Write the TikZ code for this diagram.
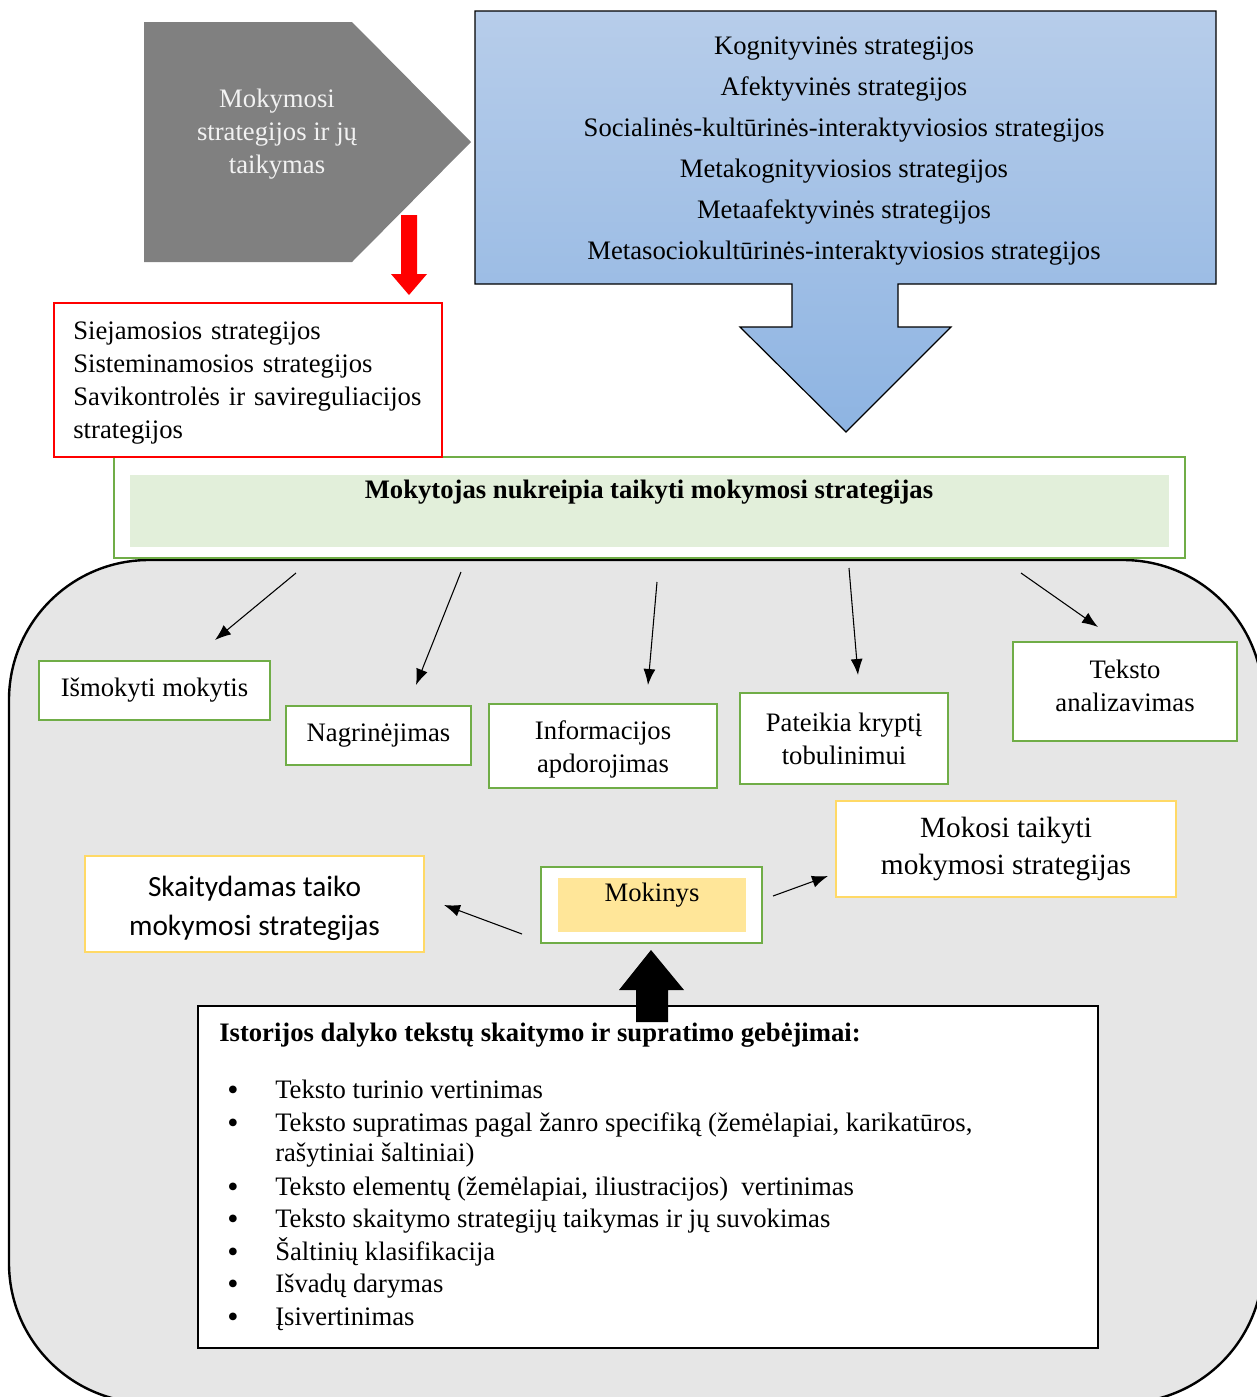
\documentclass[tikz,border=0pt]{standalone}
\usepackage{fontspec}
\setmainfont{Liberation Serif}
\newfontfamily\calibrifont{Carlito}
\usetikzlibrary{arrows.meta}

\definecolor{grayshape}{RGB}{128,128,128}
\definecolor{graytext}{RGB}{242,242,242}
\definecolor{bluetop}{RGB}{183,205,234}
\definecolor{bluebot}{RGB}{142,180,226}
\definecolor{grn}{RGB}{112,173,71}
\definecolor{grnfill}{RGB}{226,239,218}
\definecolor{ylw}{RGB}{255,217,102}
\definecolor{ylwfill}{RGB}{255,230,153}
\definecolor{panel}{RGB}{230,230,230}
\definecolor{redline}{RGB}{255,0,0}

\newcommand\txtA{\fontsize{20pt}{24.75pt}\selectfont}
\newcommand\txtB{\fontsize{20pt}{30.75pt}\selectfont}
\newcommand\txtC{\fontsize{22pt}{27.75pt}\selectfont}
\newcommand\txtD{\fontsize{22pt}{29.25pt}\selectfont}
\newcommand\bigdot{{\fontsize{24pt}{24pt}\selectfont •}}

\begin{document}
\begin{tikzpicture}[x=0.75pt,y=-0.75pt,
  place/.style n args={4}{at={({(#1+#3)/2},{(#2+#4)/2})},
     minimum width={(#3-#1)*0.75pt}, minimum height={(#4-#2)*0.75pt}},
  gbox/.style={draw=grn, line width=2.2pt, fill=white, inner sep=0pt, align=center, font=\txtA},
  ybox/.style={draw=ylw, line width=2.2pt, fill=white, inner sep=0pt, align=center},
  txt/.style={inner sep=0pt, align=center, font=\txtA},
  conn/.style={line width=0.8pt, -{Latex[length=12pt,width=9pt]}},
  listline/.style={anchor=base west, inner sep=0pt, font=\txtA},
  bullet/.style={anchor=base, inner sep=0pt},
]
\useasboundingbox (0,0) rectangle (1257,1397);

% large rounded panel, running past the page edges
\begin{scope}
  \clip (0,0) rectangle (1257,1397);
  \draw[fill=panel, line width=1.8pt, rounded corners=105pt] (9,560) rectangle (1263,1403);
\end{scope}

% grey pentagon
\fill[grayshape] (144,22) -- (352,22) -- (471,142) -- (352,262) -- (144,262) -- cycle;
\node[txt, text=graytext] (strat) at (277,134)
  {Mokymosi\\strategijos ir jų\\taikymas};

% red block arrow
\fill[redline] (401,215) -- (417,215) -- (417,274) -- (427,274) -- (409,295)
  -- (391,274) -- (401,274) -- cycle;

% blue down-arrow callout
\path[draw=black, line width=0.9pt, top color=bluetop, bottom color=bluebot]
  (475,11) -- (1216,11) -- (1216,284) -- (898,284) -- (898,327) -- (951,327)
  -- (846,432) -- (740,327) -- (792,327) -- (792,284) -- (475,284) -- cycle;
\node[txt, font=\txtB] (kinds) at (844,151.5)
  {Kognityvinės strategijos\\
   Afektyvinės strategijos\\
   Socialinės-kultūrinės-interaktyviosios strategijos\\
   Metakognityviosios strategijos\\
   Metaafektyvinės strategijos\\
   Metasociokultūrinės-interaktyviosios strategijos};

% teacher box
\node[draw=grn, line width=1pt, fill=white, place={114}{457}{1185}{558}, inner sep=0pt] (teacher) {};
\fill[grnfill] (130,475) rectangle (1169,547);
\node[font=\txtA\bfseries, inner sep=0pt] (teachertxt) at (649,492)
  {Mokytojas nukreipia taikyti mokymosi strategijas};

% red box
\node[draw=redline, line width=1.8pt, fill=white, place={54}{303}{442}{457}, inner sep=0pt] (groups) {};
\node[txt, text width=262pt, align=left] (groupstxt) at (248,383)
  {Siejamosios strategijos\\Sisteminamosios strategijos\\Savikontrolės ir savireguliacijos\\strategijos};

% activity boxes
\node[gbox, place={39}{661}{270}{720}] (learn) {Išmokyti mokytis};
\node[gbox, place={286}{706}{471}{765}] (exam) {Nagrinėjimas};
\node[gbox, place={489}{704}{717}{788}] (info) {};
\node[txt] (infotxt) at (603,749.5) {Informacijos\\apdorojimas};
\node[gbox, place={740}{693}{948}{784}] (direct) {Pateikia kryptį\\tobulinimui};
\node[gbox, place={1013}{642}{1237}{741}] (analyse) {};
\node[txt] (analysetxt) at (1125,685.5) {Teksto\\analizavimas};

% arrows from the teacher box
\coordinate (s1) at (296,573);  \coordinate (e1) at (215,640);
\coordinate (s2) at (461,572);  \coordinate (e2) at (416,685);
\coordinate (s3) at (657,582);  \coordinate (e3) at (648,685);
\coordinate (s4) at (849,568);  \coordinate (e4) at (858,675);
\coordinate (s5) at (1021,573); \coordinate (e5) at (1098,627);
\draw[conn] (s1) -- (e1);
\draw[conn] (s2) -- (e2);
\draw[conn] (s3) -- (e3);
\draw[conn] (s4) -- (e4);
\draw[conn] (s5) -- (e5);

% learner and outcomes
\node[ybox, place={85}{856}{424}{952}] (reads) {};
\node[txt, font=\calibrifont\txtD] (readstxt) at (254.5,908)
  {Skaitydamas taiko\\mokymosi strategijas};
\node[ybox, place={836}{801}{1176}{897}, font=\txtC] (learns)
  {Mokosi taikyti\\mokymosi strategijas};
\node[gbox, place={541}{867}{762}{943}] (pupil) {};
\fill[ylwfill] (558,878) rectangle (746,932);
\node[txt] (pupiltxt) at (652,895) {Mokinys};

\coordinate (s6) at (522,934); \coordinate (e6) at (444,905);
\coordinate (s7) at (773,896); \coordinate (e7) at (828,876);
\draw[conn] (s6) -- (e6);
\draw[conn] (s7) -- (e7);

% skills box
\node[draw=black, line width=1.5pt, fill=white, place={198}{1006}{1098}{1348}, inner sep=0pt] (skills) {};
\node[listline, font=\txtA\bfseries] (skhead) at (219,1041)
  {Istorijos dalyko tekstų skaitymo ir supratimo gebėjimai:};
\node[bullet] (b1) at (233,1100) {\bigdot};
\node[listline] (l1) at (275,1098) {Teksto turinio vertinimas};
\node[bullet] (b2) at (233,1133) {\bigdot};
\node[listline] (l2) at (275,1131) {Teksto supratimas pagal žanro specifiką (žemėlapiai, karikatūros,};
\node[listline] (l2b) at (275,1161) {rašytiniai šaltiniai)};
\node[bullet] (b3) at (233,1197) {\bigdot};
\node[listline] (l3) at (275,1195) {Teksto elementų (žemėlapiai, iliustracijos)\ \ vertinimas};
\node[bullet] (b4) at (233,1229) {\bigdot};
\node[listline] (l4) at (275,1227) {Teksto skaitymo strategijų taikymas ir jų suvokimas};
\node[bullet] (b5) at (233,1262) {\bigdot};
\node[listline] (l5) at (275,1260) {Šaltinių klasifikacija};
\node[bullet] (b6) at (233,1294) {\bigdot};
\node[listline] (l6) at (275,1292) {Išvadų darymas};
\node[bullet] (b7) at (233,1327) {\bigdot};
\node[listline] (l7) at (275,1325) {Įsivertinimas};

% black block arrow into the learner box
\fill[black] (636,1022) -- (636,990) -- (619,990) -- (651,950) -- (684,990)
  -- (668,990) -- (668,1022) -- cycle;

\end{tikzpicture}
\end{document}
